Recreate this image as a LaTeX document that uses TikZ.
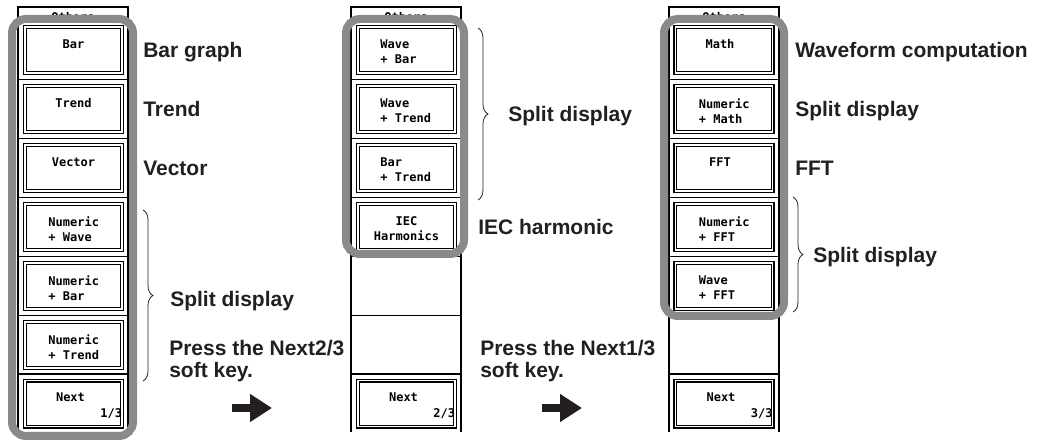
\documentclass[tikz,border=0pt]{standalone}
\usepackage{fontspec}
\setmainfont{Liberation Sans}
\newfontfamily\keyfont{DejaVu Sans Mono}
\usepackage{tikz}
\usetikzlibrary{arrows.meta, positioning, calc, decorations.pathreplacing}
\usepackage{xcolor}
\definecolor{rimgrey}{RGB}{138,138,138}
\definecolor{ink}{RGB}{35,31,32}

\tikzset{
  softkey/.style={draw, double, line width=1pt, double distance=1.2pt,
    minimum width=73pt, minimum height=34.5pt, inner sep=0pt},
  keytext/.style={font=\keyfont\bfseries\fontsize{9}{11.25}\selectfont, inner sep=0pt, anchor=north},
  note/.style={font=\bfseries\fontsize{15.75}{16.5}\selectfont, text=ink, anchor=base west, inner sep=0pt},
  rim/.style={draw=rimgrey, line width=6pt, rounded corners=10.5pt},
  grpbrace/.style={decorate, decoration={brace, amplitude=7.5pt}, line width=0.6pt, ink},
  blockarrow/.style={line width=5.6pt, ink, -{Triangle[length=16.5pt, width=20pt]}},
}

\begin{document}
\begin{tikzpicture}[x=0.75pt, y=-0.75pt]
  \useasboundingbox (0,0) rectangle (1040,441);

  % menu headers (half hidden by the grey rims)
  \foreach \L/\p in {18/1, 351/2, 669/3}
    \node[keytext, anchor=center] (top\p) at (\L+55,17) {Others};
  \fill[white, rounded corners=10.5pt] (12,19) rectangle (133,436);
  \fill[white, rounded corners=10.5pt] (346,19) rectangle (464,254);
  \fill[white, rounded corners=10.5pt] (664,19) rectangle (784,316);

  % menu columns
  \foreach \L in {18, 351, 669} {
    \draw[line width=0.9pt] (\L,432) -- (\L,7) -- (\L+110,7) -- (\L+110,432);
    \foreach \k in {1,...,5}
      \draw[line width=0.6pt] (\L,21+58.9*\k) -- ++(110,0);
    \draw[line width=1.4pt] (\L,374.4) -- ++(110,0);
  }

  % soft keys
  \foreach \k in {0,...,6}
    \node[softkey] (a\k) at (73.5,50.25+58.9*\k) {};
  \foreach \k in {0,1,2,3,6}
    \node[softkey] (b\k) at (406.5,50.25+58.9*\k) {};
  \foreach \k in {0,1,2,3,4,6}
    \node[softkey] (c\k) at (724,50.25+58.9*\k) {};

  \node[keytext] (a0t) at ($(a0.north)+(0,13)$) {Bar};
  \node[keytext] (a1t) at ($(a1.north)+(0,13)$) {Trend};
  \node[keytext] (a2t) at ($(a2.north)+(0,13)$) {Vector};
  \node[keytext, anchor=north west, align=left] (a3t) at ($(a3.north west)+(24,13)$) {Numeric\\+ Wave};
  \node[keytext, anchor=north west, align=left] (a4t) at ($(a4.north west)+(24,13)$) {Numeric\\+ Bar};
  \node[keytext, anchor=north west, align=left] (a5t) at ($(a5.north west)+(24,13)$) {Numeric\\+ Trend};
  \node[keytext] (a6t) at ($(a6.north)+(-3,13)$) {Next};
  \node[keytext, anchor=north east] (a6n) at ($(a6.north east)+(-0.5,28)$) {1/3};

  \node[keytext, anchor=north west, align=left] (b0t) at ($(b0.north west)+(23,13)$) {Wave\\+ Bar};
  \node[keytext, anchor=north west, align=left] (b1t) at ($(b1.north west)+(23,13)$) {Wave\\+ Trend};
  \node[keytext, anchor=north west, align=left] (b2t) at ($(b2.north west)+(23,13)$) {Bar\\+ Trend};
  \node[keytext, align=center] (b3t) at ($(b3.north)+(0,13)$) {IEC\\Harmonics};
  \node[keytext] (b6t) at ($(b6.north)+(-3,13)$) {Next};
  \node[keytext, anchor=north east] (b6n) at ($(b6.north east)+(-0.5,28)$) {2/3};

  \node[keytext] (c0t) at ($(c0.north)+(-4,13)$) {Math};
  \node[keytext, anchor=north west, align=left] (c1t) at ($(c1.north west)+(24,13)$) {Numeric\\+ Math};
  \node[keytext] (c2t) at ($(c2.north)+(-4,13)$) {FFT};
  \node[keytext, anchor=north west, align=left] (c3t) at ($(c3.north west)+(24,13)$) {Numeric\\+ FFT};
  \node[keytext, anchor=north west, align=left] (c4t) at ($(c4.north west)+(24,13)$) {Wave\\+ FFT};
  \node[keytext] (c6t) at ($(c6.north)+(-3,13)$) {Next};
  \node[keytext, anchor=north east] (c6n) at ($(c6.north east)+(-0.5,28)$) {3/3};

  % grey rims round the active keys
  \draw[rim] (12,19) rectangle (133,436);
  \draw[rim] (346,19) rectangle (464,254);
  \draw[rim] (664,19) rectangle (784,316);

  % first page
  \node[note] (bargraph) at (143,57.5) {Bar graph};
  \node[note] (trend) at (143,116.4) {Trend};
  \node[note] (vector) at (143,175.3) {Vector};
  \coordinate (s1top) at (143,210);
  \coordinate (s1bot) at (143,381);
  \draw[grpbrace] (s1top) -- (s1bot);
  \node[note] (split1) at (170,307) {Split display};
  \node[note] (press1) at (169,356) {Press the Next2/3};
  \node[note] (soft1) at (169,378) {soft key.};
  \coordinate (go1) at (232,408);
  \coordinate (to1) at (272,408);
  \draw[blockarrow] (go1) -- (to1);

  % second page
  \coordinate (s2top) at (478,28);
  \coordinate (s2bot) at (478,200);
  \draw[grpbrace] (s2top) -- (s2bot);
  \node[note] (split2) at (508,122) {Split display};
  \node[note] (iec) at (478,235) {IEC harmonic};
  \node[note] (press2) at (480,356) {Press the Next1/3};
  \node[note] (soft2) at (480,378) {soft key.};
  \coordinate (go2) at (542,408);
  \coordinate (to2) at (582,408);
  \draw[blockarrow] (go2) -- (to2);

  % third page
  \node[note] (wavecomp) at (795,57.5) {Waveform computation};
  \node[note] (split3) at (795,116.4) {Split display};
  \node[note] (fft) at (795,175.3) {FFT};
  \coordinate (s3top) at (793,197);
  \coordinate (s3bot) at (793,312);
  \draw[grpbrace] (s3top) -- (s3bot);
  \node[note] (split4) at (813,263) {Split display};
\end{tikzpicture}
\end{document}
